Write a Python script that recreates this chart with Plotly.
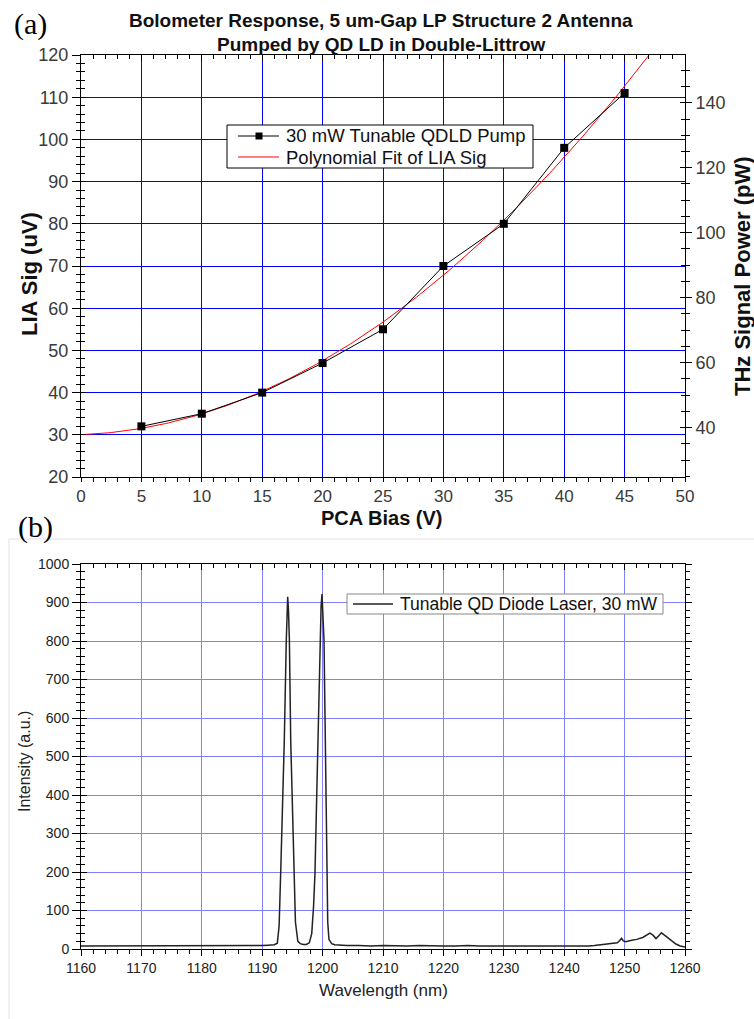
import numpy as np
import plotly.graph_objects as go

# ---- Panel (a): bolometer response vs PCA bias ----
pca_bias = [5, 10, 15, 20, 25, 30, 35, 40, 45]
lia_sig = [32, 35, 40, 47, 55, 70, 80, 98, 111]

# second-order polynomial fit of the LIA signal
fit_coef = np.polyfit(pca_bias, lia_sig, 2)
fit_x = np.linspace(0, 50, 201)
fit_y = np.polyval(fit_coef, fit_x)

# ---- Panel (b): laser spectrum ----
wavelength = [
    1160, 1161, 1162, 1163, 1164, 1165, 1166, 1167, 1168, 1169,
    1170, 1171, 1172, 1173, 1174, 1175, 1176, 1177, 1178, 1179,
    1180, 1181, 1182, 1183, 1184, 1185, 1186, 1187, 1188, 1189,
    1190, 1191, 1192, 1192.5, 1192.8, 1193.06, 1193.3, 1193.66, 1193.99, 1194.1,
    1194.22, 1194.35, 1194.5, 1194.72, 1195.0, 1195.26, 1195.5, 1195.9, 1196.3, 1196.8,
    1197.3, 1197.8, 1198.2, 1198.5, 1198.74, 1199.0, 1199.24, 1199.57, 1199.75, 1199.9,
    1200.05, 1200.23, 1200.45, 1200.67, 1200.85, 1201.05, 1201.5, 1202, 1203, 1204,
    1206, 1208, 1210, 1212, 1214, 1216, 1218, 1220, 1222, 1224,
    1226, 1228, 1230, 1232, 1234, 1236, 1238, 1240, 1242, 1244,
    1245, 1246, 1247, 1248, 1248.8, 1249.2, 1249.5, 1249.8, 1250.2, 1251,
    1252, 1253, 1253.6, 1254.2, 1254.7, 1255.2, 1255.7, 1256.1, 1256.6, 1257.2,
    1257.8, 1258.5, 1259.2, 1260,
]
intensity = [
    8, 8, 9, 8, 8, 9, 9, 8, 8, 9,
    9, 8, 9, 9, 8, 9, 9, 9, 8, 9,
    9, 9, 8, 9, 9, 9, 8, 9, 9, 9,
    9, 10, 11, 15, 60, 197, 330, 543, 803, 880,
    915, 880, 803, 543, 350, 197, 70, 20, 14, 12,
    12, 16, 40, 110, 197, 380, 543, 803, 890, 922,
    880, 803, 543, 197, 70, 25, 14, 11, 10, 9,
    9, 8, 9, 8, 8, 9, 8, 8, 8, 9,
    8, 8, 8, 7, 8, 8, 7, 7, 7, 8,
    9, 11, 12, 14, 16, 22, 28, 21, 19, 22,
    25, 30, 36, 41, 36, 27, 35, 42, 36, 28,
    20, 13, 8, 5,
]

top_legend = ["30 mW Tunable QDLD Pump", "Polynomial Fit of LIA Sig"]
bottom_legend = "Tunable QD Diode Laser, 30 mW"

W, H = 754, 1019
XD = [81 / W, 685 / W]
YD_A = [(H - 477) / H, (H - 55) / H]
YD_B = [(H - 949) / H, (H - 564) / H]

PW_RANGE = [24.8, 154.7]

sans = "Liberation Sans, Arial, sans-serif"
serif = "Liberation Serif, Times New Roman, serif"
tick_font_a = dict(family=sans, size=18, color="#3a3a3a")
tick_font_ax = dict(family=sans, size=17, color="#3a3a3a")
tick_font_b = dict(family=sans, size=14, color="#222222")
grid_a = "#0000ff"
grid_b = "#8080ff"

fig = go.Figure()

fig.add_trace(go.Scatter(
    x=fit_x, y=fit_y, mode="lines", name=top_legend[1],
    line=dict(color="#ff0000", width=1), xaxis="x", yaxis="y", showlegend=False,
))
fig.add_trace(go.Scatter(
    x=pca_bias, y=lia_sig, mode="lines+markers", name=top_legend[0],
    line=dict(color="#000000", width=1),
    marker=dict(symbol="square", size=8, color="#000000"),
    xaxis="x", yaxis="y", showlegend=False,
))
fig.add_trace(go.Scatter(
    x=wavelength, y=intensity, mode="lines", name=bottom_legend,
    line=dict(color="#222222", width=1.5), xaxis="x2", yaxis="y5", showlegend=False,
))

# empty traces so that every tick-only overlay axis gets drawn
for xa, ya in [("x3", "y"), ("x", "y2"), ("x", "y3"), ("x", "y4"),
               ("x4", "y5"), ("x2", "y6"), ("x2", "y7")]:
    fig.add_trace(go.Scatter(x=[None], y=[None], xaxis=xa, yaxis=ya,
                             showlegend=False, hoverinfo="skip"))

line_on = dict(showline=True, linecolor="#000000", linewidth=1, zeroline=False, automargin=False)
line_off = dict(showline=False, zeroline=False, automargin=False)


def minor(dtick, where, ln=4):
    return dict(dtick=dtick, ticks=where, ticklen=ln, tickcolor="#000", showgrid=False)


fig.update_layout(
    template="none",
    width=W, height=H,
    margin=dict(l=0, r=0, t=0, b=0, autoexpand=False),
    paper_bgcolor="white", plot_bgcolor="white",
    showlegend=False,
    # panel (a) axes
    xaxis=dict(domain=XD, anchor="y", range=[0, 50], dtick=5, tick0=0,
               showgrid=True, gridcolor=grid_a, gridwidth=1,
               ticks="outside", ticklen=4, tickcolor="#000", tickfont=tick_font_ax,
               minor=minor(1, "outside"), **line_on),
    xaxis3=dict(overlaying="x", anchor="y", side="top", range=[0, 50], dtick=5, tick0=0,
                showgrid=False, showticklabels=False,
                ticks="inside", ticklen=6, tickcolor="#000",
                minor=minor(1, "inside"), **line_on),
    yaxis=dict(domain=YD_A, anchor="x", range=[20, 120], dtick=10, tick0=0,
               showgrid=True, gridcolor=grid_a, gridwidth=1,
               ticks="outside", ticklen=8, tickcolor="#000", tickfont=tick_font_a,
               minor=minor(2, "outside"), **line_on),
    yaxis3=dict(overlaying="y", anchor="x", side="left", range=[20, 120], dtick=10, tick0=0,
                showgrid=False, showticklabels=False,
                ticks="inside", ticklen=5, tickcolor="#000",
                minor=minor(2, "inside"), **line_off),
    yaxis2=dict(overlaying="y", anchor="x", side="right", range=PW_RANGE, dtick=20, tick0=0,
                showgrid=False, ticks="outside", ticklen=6, tickcolor="#000", tickfont=tick_font_a,
                minor=minor(5, "outside"), **line_on),
    yaxis4=dict(overlaying="y", anchor="x", side="right", range=PW_RANGE, dtick=20, tick0=0,
                showgrid=False, showticklabels=False,
                ticks="inside", ticklen=5, tickcolor="#000",
                minor=minor(5, "inside"), **line_off),
    # panel (b) axes
    xaxis2=dict(domain=XD, anchor="y5", range=[1160, 1260], dtick=10, tick0=1160,
                showgrid=True, gridcolor=grid_b, gridwidth=1,
                ticks="outside", ticklen=6, tickcolor="#000", tickfont=tick_font_b,
                minor=minor(2, "outside"), **line_on),
    xaxis4=dict(overlaying="x2", anchor="y5", side="top", range=[1160, 1260], dtick=10, tick0=1160,
                showgrid=False, showticklabels=False,
                ticks="inside", ticklen=6, tickcolor="#000",
                minor=minor(2, "inside"), **line_on),
    yaxis5=dict(domain=YD_B, anchor="x2", range=[0, 1000], dtick=100, tick0=0,
                showgrid=True, gridcolor=grid_b, gridwidth=1,
                ticks="outside", ticklen=8, tickcolor="#000", tickfont=tick_font_b,
                minor=minor(20, "outside"), **line_on),
    yaxis6=dict(overlaying="y5", anchor="x2", side="left", range=[0, 1000], dtick=100, tick0=0,
                showgrid=False, showticklabels=False,
                ticks="inside", ticklen=6, tickcolor="#000",
                minor=minor(20, "inside"), **line_off),
    yaxis7=dict(overlaying="y5", anchor="x2", side="right", range=[0, 1000], dtick=100, tick0=0,
                showgrid=False, showticklabels=False,
                ticks="outside", ticklen=6, tickcolor="#000",
                minor=minor(20, "outside"), **line_on),
)

# light frame around the lower panel
fig.add_shape(type="rect", xref="paper", yref="paper",
              x0=9 / W, x1=1.01, y0=-0.01, y1=1 - 539 / H,
              line=dict(color="#e2e2e2", width=1), fillcolor="rgba(0,0,0,0)", layer="below")


def px_x(x):
    return x / W


def px_y(y):
    return 1 - y / H


def txt(text, x, y, size, family=sans, color="#111", angle=0, weight=None, anchor="center"):
    f = dict(family=family, size=size, color=color)
    if weight:
        f["weight"] = weight
    fig.add_annotation(text=text, xref="paper", yref="paper", x=px_x(x), y=px_y(y),
                       xanchor=anchor, yanchor="middle", showarrow=False,
                       font=f, textangle=angle)


def box(x0, y0, x1, y1, color):
    fig.add_shape(type="rect", xref="paper", yref="paper",
                  x0=px_x(x0), x1=px_x(x1), y0=px_y(y1), y1=px_y(y0),
                  line=dict(color=color, width=1), fillcolor="white", layer="above")


def key_line(x0, x1, y, color, width=1):
    fig.add_shape(type="line", xref="paper", yref="paper",
                  x0=px_x(x0), x1=px_x(x1), y0=px_y(y), y1=px_y(y),
                  line=dict(color=color, width=width), layer="above")


# legend of panel (a)
box(227, 125, 533, 168, "#000000")
key_line(238, 279, 136, "#000000")
fig.add_shape(type="rect", xref="paper", yref="paper",
              x0=px_x(255.5), x1=px_x(262.5), y0=px_y(139.5), y1=px_y(132.5),
              line=dict(color="#000", width=0), fillcolor="#000", layer="above")
key_line(238, 279, 157, "#ff0000")
txt(top_legend[0], 284, 136, 18.5, color="#111", anchor="left")
txt(top_legend[1], 284, 157, 18.5, color="#111", anchor="left")

# legend of panel (b)
box(347, 594, 663, 614, "#888888")
key_line(353, 393, 604, "#222222", 1.5)
txt(bottom_legend, 398, 604, 17.5, color="#111", anchor="left")

# titles and panel labels
txt("Bolometer Response, 5 um-Gap LP Structure 2 Antenna", 381, 21, 19, weight="bold")
txt("Pumped by QD LD in Double-Littrow", 381, 44, 19, weight="bold")
txt("(a)", 30, 24, 30, family=serif, color="#000")
txt("(b)", 35, 527, 30, family=serif, color="#000")
txt("LIA Sig (uV)", 30, 274, 22, angle=-90, weight="bold")
txt("THz Signal Power (pW)", 742, 276, 22, angle=-90, weight="bold")
txt("PCA Bias (V)", 382, 518, 20, weight="bold")
txt("Intensity (a.u.)", 24, 762, 16, angle=-90, color="#222")
txt("Wavelength (nm)", 383, 990, 17, color="#222")

fig.write_html("out.html")
